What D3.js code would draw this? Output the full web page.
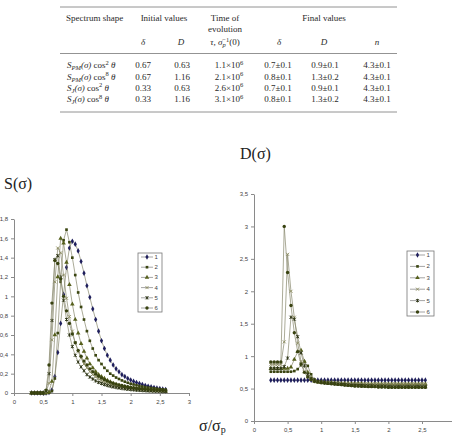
<!DOCTYPE html>
<html>
<head>
<meta charset="utf-8">
<script src="https://cdn.jsdelivr.net/npm/d3@7"></script>
<style>
  body { margin: 0; background: #fff; }
  svg { display: block; }
</style>
</head>
<body>
<script>
//width and height
var w = 452;
var h = 436;

//table rows
var rowShapes = [["PM", "2"], ["PM", "8"], ["J", "2"], ["J", "8"]];
var initDelta = ["0.67", "0.67", "0.33", "0.33"];
var initD = ["0.63", "1.16", "0.63", "1.16"];
var evolTime = ["1.1", "2.1", "2.6", "3.1"];
var finalDelta = ["0.7\u00b10.1", "0.8\u00b10.1", "0.7\u00b10.1", "0.8\u00b10.1"];
var finalD = ["0.9\u00b10.1", "1.3\u00b10.2", "0.9\u00b10.1", "1.3\u00b10.2"];
var finalN = ["4.3\u00b10.1", "4.3\u00b10.1", "4.3\u00b10.1", "4.3\u00b10.1"];

//series names
var seriesNames = ["1", "2", "3", "4", "5", "6"];

//S(sigma) chart
var sigmaS = [0.30, 0.35, 0.40, 0.45, 0.50, 0.55, 0.60, 0.65, 0.70, 0.75, 0.80, 0.85, 0.90, 0.95,
              1.00, 1.05, 1.10, 1.15, 1.20, 1.25, 1.30, 1.35, 1.40, 1.45, 1.50, 1.55, 1.60, 1.65,
              1.70, 1.75, 1.80, 1.85, 1.90, 1.95, 2.00, 2.05, 2.10, 2.15, 2.20, 2.25, 2.30, 2.35,
              2.40, 2.45, 2.50, 2.55, 2.60];
var S1 = [0, 0, 0, 0, 0, 0, 0.005, 0.03, 0.17, 0.42, 0.72, 1.02, 1.30, 1.50,
          1.57, 1.54, 1.47, 1.36, 1.24, 1.11, 0.99, 0.87, 0.76, 0.64, 0.54, 0.46, 0.39, 0.34,
          0.29, 0.25, 0.22, 0.19, 0.17, 0.15, 0.135, 0.12, 0.108, 0.097, 0.087, 0.078, 0.07, 0.063,
          0.056, 0.05, 0.045, 0.04, 0.035];
var S2 = [0, 0, 0, 0, 0, 0, 0.003, 0.02, 0.15, 0.62, 1.15, 1.58, 1.69, 1.56,
          1.40, 1.22, 1.04, 0.89, 0.76, 0.64, 0.54, 0.46, 0.39, 0.34, 0.30, 0.26, 0.23, 0.20,
          0.18, 0.16, 0.145, 0.13, 0.117, 0.106, 0.096, 0.088, 0.08, 0.073, 0.067, 0.061, 0.056, 0.052,
          0.048, 0.044, 0.04, 0.037, 0.034];
var S3 = [0, 0, 0, 0, 0, 0, 0.01, 0.12, 0.60, 1.20, 1.60, 1.55, 1.35, 1.12,
          0.92, 0.76, 0.62, 0.51, 0.43, 0.36, 0.30, 0.26, 0.22, 0.19, 0.17, 0.15, 0.13, 0.115,
          0.10, 0.09, 0.08, 0.072, 0.065, 0.058, 0.053, 0.048, 0.044, 0.04, 0.037, 0.034, 0.031, 0.029,
          0.027, 0.025, 0.023, 0.021, 0.02];
var S4 = [0, 0, 0, 0, 0, 0.01, 0.10, 0.55, 1.15, 1.50, 1.45, 1.22, 0.98, 0.79,
          0.64, 0.52, 0.43, 0.36, 0.30, 0.26, 0.22, 0.19, 0.165, 0.145, 0.128, 0.113, 0.10, 0.09,
          0.08, 0.072, 0.065, 0.058, 0.053, 0.048, 0.044, 0.04, 0.036, 0.033, 0.03, 0.028, 0.026, 0.024,
          0.022, 0.02, 0.019, 0.018, 0.017];
var S5 = [0, 0, 0, 0, 0, 0.02, 0.20, 0.75, 1.38, 1.42, 1.20, 0.96, 0.76, 0.60,
          0.48, 0.39, 0.32, 0.27, 0.23, 0.19, 0.165, 0.145, 0.125, 0.11, 0.098, 0.087, 0.078, 0.07,
          0.063, 0.057, 0.052, 0.047, 0.043, 0.039, 0.036, 0.033, 0.03, 0.028, 0.026, 0.024, 0.022, 0.021,
          0.019, 0.018, 0.017, 0.016, 0.015];
var S6 = [0, 0, 0, 0, 0, 0.03, 0.29, 0.93, 1.37, 1.34, 1.18, 1.00, 0.85, 0.72,
          0.61, 0.52, 0.44, 0.38, 0.33, 0.29, 0.25, 0.22, 0.195, 0.173, 0.155, 0.138, 0.124, 0.112,
          0.101, 0.092, 0.084, 0.077, 0.07, 0.064, 0.059, 0.055, 0.05, 0.047, 0.044, 0.041, 0.038, 0.036,
          0.034, 0.032, 0.03, 0.028, 0.027];

//D(sigma) chart
var sigmaD = [0.25, 0.30, 0.35, 0.40, 0.45, 0.50, 0.55, 0.60, 0.65, 0.70, 0.75, 0.80, 0.85, 0.90,
              0.95, 1.00, 1.05, 1.10, 1.15, 1.20, 1.25, 1.30, 1.35, 1.40, 1.45, 1.50, 1.55, 1.60,
              1.65, 1.70, 1.75, 1.80, 1.85, 1.90, 1.95, 2.00, 2.05, 2.10, 2.15, 2.20, 2.25, 2.30,
              2.35, 2.40, 2.45, 2.50, 2.55];
var D1 = [0.63, 0.63, 0.63, 0.63, 0.63, 0.63, 0.63, 0.63, 0.63, 0.63, 0.63, 0.63, 0.63, 0.63,
          0.63, 0.63, 0.63, 0.63, 0.63, 0.63, 0.63, 0.63, 0.63, 0.63, 0.63, 0.63, 0.63, 0.63,
          0.63, 0.63, 0.63, 0.63, 0.63, 0.63, 0.63, 0.63, 0.63, 0.63, 0.63, 0.63, 0.63, 0.63,
          0.63, 0.63, 0.63, 0.63, 0.63];
var D2 = [0.76, 0.76, 0.76, 0.76, 0.76, 0.76, 0.76, 0.77, 0.80, 0.86, 0.91, 0.85, 0.72, 0.64,
          0.61, 0.60, 0.585, 0.58, 0.575, 0.57, 0.565, 0.56, 0.555, 0.55, 0.545, 0.54, 0.54, 0.535,
          0.535, 0.53, 0.53, 0.53, 0.525, 0.525, 0.525, 0.52, 0.52, 0.52, 0.52, 0.52, 0.52, 0.52,
          0.52, 0.52, 0.52, 0.52, 0.52];
var D3 = [0.81, 0.81, 0.81, 0.81, 0.81, 0.81, 0.83, 0.95, 1.07, 1.09, 0.92, 0.75, 0.66, 0.62,
          0.60, 0.60, 0.595, 0.59, 0.59, 0.585, 0.585, 0.58, 0.58, 0.58, 0.575, 0.575, 0.575, 0.575,
          0.57, 0.57, 0.57, 0.57, 0.57, 0.57, 0.57, 0.57, 0.57, 0.57, 0.57, 0.57, 0.57, 0.57,
          0.57, 0.57, 0.57, 0.57, 0.57];
var D4 = [0.87, 0.87, 0.87, 0.87, 1.22, 2.57, 2.00, 1.60, 1.20, 0.92, 0.76, 0.68, 0.64, 0.62,
          0.61, 0.60, 0.595, 0.59, 0.59, 0.585, 0.585, 0.58, 0.58, 0.58, 0.575, 0.575, 0.575, 0.575,
          0.57, 0.57, 0.57, 0.57, 0.57, 0.57, 0.57, 0.57, 0.57, 0.57, 0.57, 0.57, 0.57, 0.57,
          0.57, 0.57, 0.57, 0.57, 0.57];
var D5 = [0.81, 0.81, 0.81, 0.81, 0.84, 0.97, 1.60, 1.57, 1.30, 1.05, 0.85, 0.72, 0.65, 0.62,
          0.61, 0.60, 0.59, 0.585, 0.58, 0.575, 0.57, 0.565, 0.56, 0.555, 0.55, 0.55, 0.545, 0.545,
          0.54, 0.54, 0.54, 0.535, 0.535, 0.535, 0.535, 0.53, 0.53, 0.53, 0.53, 0.53, 0.53, 0.53,
          0.53, 0.53, 0.53, 0.53, 0.53];
var D6 = [0.91, 0.91, 0.91, 0.91, 3.00, 2.29, 1.78, 1.36, 1.07, 0.88, 0.75, 0.68, 0.64, 0.61,
          0.60, 0.59, 0.585, 0.58, 0.575, 0.57, 0.565, 0.56, 0.555, 0.55, 0.545, 0.54, 0.54, 0.535,
          0.535, 0.53, 0.53, 0.53, 0.525, 0.525, 0.525, 0.52, 0.52, 0.52, 0.52, 0.52, 0.52, 0.52,
          0.52, 0.52, 0.52, 0.52, 0.52];

//tick values
var xTicksS = [0, 0.5, 1, 1.5, 2, 2.5, 3];
var xTicksD = [0, 0.5, 1, 1.5, 2, 2.5];
var yTicksS = [0, 0.2, 0.4, 0.6, 0.8, 1, 1.2, 1.4, 1.6, 1.8];
var yTicksD = [0, 0.5, 1, 1.5, 2, 2.5, 3, 3.5];

//marker style per series
var markerKind = ["diamond", "square", "triangle", "x", "star", "circle"];
var markerColor = ["#1e1e5c", "#3a4510", "#56601c", "#8a8a5c", "#283010", "#384210"];
var lineColor = "#86866c";

var svg = d3.select("body")
            .append("svg")
            .attr("width", w)
            .attr("height", h);

var serif = "'Liberation Serif', 'Times New Roman', serif";
var sans = "'Liberation Sans', Arial, sans-serif";

// ---------------- table ----------------
var table = svg.append("g")
               .style("font-family", serif)
               .style("font-size", "9px")
               .style("fill", "#2a2a2a");

[7, 53.5, 112].forEach(function(y) {
    table.append("line")
         .attr("x1", 60).attr("x2", 397)
         .attr("y1", y).attr("y2", y)
         .attr("stroke", "#777")
         .attr("stroke-width", 0.8);
});

function txt(x, y, s, anchor) {
    return table.append("text")
                .attr("x", x).attr("y", y)
                .attr("text-anchor", anchor || "middle")
                .text(s);
}

txt(66, 21, "Spectrum shape", "start");
txt(164, 21, "Initial values");
txt(225, 21, "Time of");
txt(225, 31.5, "evolution");
txt(324, 21, "Final values");
txt(143, 45, "\u03b4").style("font-style", "italic");
txt(181, 45, "D").style("font-style", "italic");
txt(279, 45, "\u03b4").style("font-style", "italic");
txt(324, 45, "D").style("font-style", "italic");
txt(377, 45, "n").style("font-style", "italic");

var tau = txt(225, 45, "");
tau.append("tspan").style("font-style", "italic").text("\u03c4");
tau.append("tspan").text(", ");
tau.append("tspan").style("font-style", "italic").text("\u03c3");
tau.append("tspan").attr("dy", 2).style("font-size", "6.5px").style("font-style", "italic").text("p");
tau.append("tspan").attr("dy", -5.5).attr("dx", -3.5).style("font-size", "6.5px").text("\u22121");
tau.append("tspan").attr("dy", 3.5).text("(0)");

var rowY = [68, 79.5, 90.5, 102];
rowShapes.forEach(function(r, i) {
    var t = txt(67, rowY[i], "", "start");
    t.append("tspan").style("font-style", "italic").text("S");
    t.append("tspan").attr("dy", 2).style("font-size", "6.5px").style("font-style", "italic").text(r[0]);
    t.append("tspan").attr("dy", -2).style("font-style", "italic").text("(\u03c3)");
    t.append("tspan").text(" cos");
    t.append("tspan").attr("dy", -3.5).style("font-size", "6.5px").text(r[1]);
    t.append("tspan").attr("dy", 3.5).style("font-style", "italic").text(" \u03b8");

    txt(143, rowY[i], initDelta[i]);
    txt(182, rowY[i], initD[i]);
    var e = txt(229, rowY[i], "");
    e.append("tspan").text(evolTime[i] + "\u00d710");
    e.append("tspan").attr("dy", -3.5).style("font-size", "6.5px").text("6");
    txt(278, rowY[i], finalDelta[i]);
    txt(325, rowY[i], finalD[i]);
    txt(377, rowY[i], finalN[i]);
});

// ---------------- charts ----------------
function marker(sel, kind, color) {
    if (kind === "x" || kind === "star") {
        var p = "M-1.5,-1.5L1.5,1.5M-1.5,1.5L1.5,-1.5";
        if (kind === "star") p += "M0,-1.8L0,1.8";
        sel.attr("d", p).attr("fill", "none").attr("stroke", color).attr("stroke-width", 0.9);
    } else {
        var sym = {diamond: d3.symbolDiamond, square: d3.symbolSquare,
                   triangle: d3.symbolTriangle, circle: d3.symbolCircle}[kind];
        sel.attr("d", d3.symbol(sym, kind === "square" ? 7 : 9)()).attr("fill", color);
    }
}

var commaFmt = function(d) { return String(d).replace(".", ","); };

function drawChart(xs, series, x, y, yTicks, xTickVals, legendBox) {
    var g = svg.append("g");

    //axes
    var ax = g.append("g")
              .attr("transform", "translate(0," + y(0) + ")")
              .call(d3.axisBottom(x).tickValues(xTickVals).tickSize(3).tickSizeOuter(0).tickFormat(commaFmt));
    var ay = g.append("g")
              .attr("transform", "translate(" + x(0) + ",0)")
              .call(d3.axisLeft(y).tickValues(yTicks).tickSize(3).tickSizeOuter(0).tickFormat(commaFmt));
    [ax, ay].forEach(function(a) {
        a.selectAll("path, line").attr("stroke", "#8a8a8a");
        a.selectAll("text").style("font-family", sans).style("font-size", "6px").attr("fill", "#444");
    });
    ax.selectAll("text").attr("dy", "0.9em");

    var line = d3.line()
                 .x(function(d) { return x(d[0]); })
                 .y(function(d) { return y(d[1]); });

    series.forEach(function(vals, i) {
        var pts = xs.map(function(s, j) { return [s, vals[j]]; });
        g.append("path")
         .attr("d", line(pts))
         .attr("fill", "none")
         .attr("stroke", lineColor)
         .attr("stroke-width", 0.7);
        g.selectAll(null)
         .data(pts)
         .enter()
         .append("path")
         .attr("transform", function(d) { return "translate(" + x(d[0]) + "," + y(d[1]) + ")"; })
         .call(marker, markerKind[i], markerColor[i]);
    });

    //legend
    var lg = g.append("g").attr("transform", "translate(" + legendBox[0] + "," + legendBox[1] + ")");
    lg.append("rect")
      .attr("width", legendBox[2]).attr("height", legendBox[3])
      .attr("fill", "#fff").attr("stroke", "#777").attr("stroke-width", 0.8);
    var step = (legendBox[3] - 8) / 5;
    seriesNames.forEach(function(name, i) {
        var yy = 4 + i * step;
        lg.append("line").attr("x1", 3).attr("x2", legendBox[2] - 9)
          .attr("y1", yy).attr("y2", yy).attr("stroke", "#666").attr("stroke-width", 0.6);
        lg.append("path")
          .attr("transform", "translate(" + ((legendBox[2] - 6) / 2) + "," + yy + ")")
          .call(marker, markerKind[i], markerColor[i]);
        lg.append("text").attr("x", legendBox[2] - 7.5).attr("y", yy + 2)
          .style("font-family", sans).style("font-size", "6px").attr("fill", "#444")
          .text(name);
    });
}

var xS = d3.scaleLinear().domain([0, 3]).range([14, 189]);
var yS = d3.scaleLinear().domain([0, 1.8]).range([393, 219]);
drawChart(sigmaS, [S1, S2, S3, S4, S5, S6], xS, yS, yTicksS, xTicksS, [138, 253, 24, 59]);

var xD = d3.scaleLinear().domain([0, 3]).range([254, 455.6]);
var yD = d3.scaleLinear().domain([0, 3.5]).range([421, 194]);
drawChart(sigmaD, [D1, D2, D3, D4, D5, D6], xD, yD, yTicksD, xTicksD, [407, 251, 27, 65]);

//chart titles
svg.append("text").attr("x", 4).attr("y", 189)
   .style("font-family", serif).style("font-size", "16px").attr("fill", "#222")
   .text("S(\u03c3)");
svg.append("text").attr("x", 240).attr("y", 159)
   .style("font-family", serif).style("font-size", "16px").attr("fill", "#222")
   .text("D(\u03c3)");
var xl = svg.append("text").attr("x", 199).attr("y", 431)
   .style("font-family", serif).style("font-size", "16px").attr("fill", "#222");
xl.append("tspan").text("\u03c3/\u03c3");
xl.append("tspan").attr("dy", 2).style("font-size", "10px").text("p");
</script>
</body>
</html>
